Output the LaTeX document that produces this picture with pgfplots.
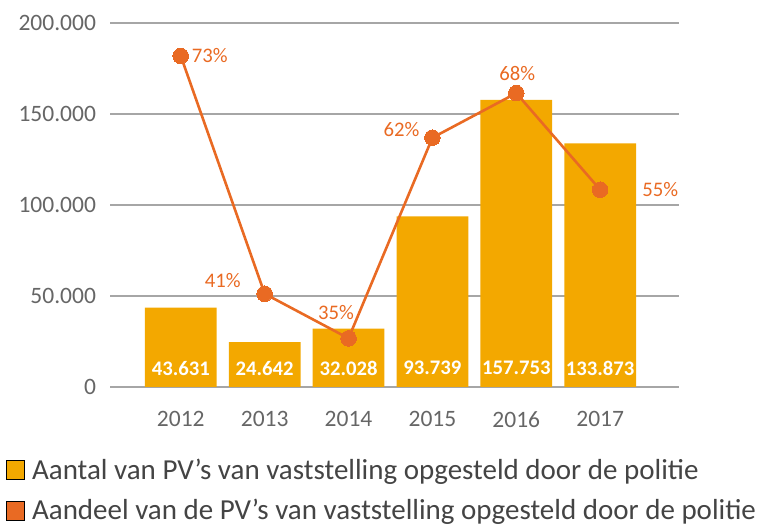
\documentclass[border=0pt]{standalone}
\usepackage{pgfplots}
\usepackage{pgfplotstable}
\pgfplotsset{compat=1.18}
\usepackage{fontspec}
\setmainfont{Carlito}

\definecolor{barc}{HTML}{F3A800}
\definecolor{linec}{HTML}{E96A23}
\definecolor{gridc}{HTML}{A6A6A6}
\definecolor{tickc}{HTML}{666666}
\definecolor{legc}{HTML}{444444}

% number of PV's per year
\pgfplotstableread{
x count
0 43631
1 24642
2 32028
3 93739
4 157753
5 133873
}\counts

% share (%) with label offsets in bp
\pgfplotstableread{
x share dx dy
0 73 29 0
1 41 -42 13
2 35 -12.5 26
3 62 -31 8
4 68 1 20
5 55 60 0
}\shares

\begin{document}
\begin{tikzpicture}[font=\fontsize{23.5bp}{28bp}\selectfont]
\pgfplotsset{
  base/.style={
    at={(110bp,139bp)}, anchor=south west,
    scale only axis, width=569bp, height=364bp,
    xmin=-0.844, xmax=5.94,
  },
}
\begin{axis}[
  base,
  ymin=0, ymax=200000,
  xtick={0,1,2,3,4,5},
  xticklabels={2012,2013,2014,2015,2016,2017},
  ytick={0,50000,100000,150000,200000},
  scaled y ticks=false,
  axis line style={draw=none},
  major tick style={draw=none},
  ymajorgrids, grid style={gridc, line width=1.2bp},
  tick label style={tickc},
  xticklabel style={yshift=-21bp},
  yticklabel style={xshift=-10.5bp},
  /pgf/number format/fixed,
  /pgf/number format/1000 sep={.},
  /pgf/number format/assume math mode=true,
]
\addplot[ybar, bar shift=0pt, bar width=0.855, fill=barc, draw=none]
  table[x=x, y=count] {\counts};
\addplot[draw=none, mark=none, nodes near coords, point meta=\thisrow{count},
  nodes near coords style={white, anchor=center,
    font=\fontsize{20.7bp}{24bp}\selectfont\bfseries}]
  table[x=x, y expr=10400] {\counts};
\end{axis}

\begin{axis}[
  base,
  ymin=28.45, ymax=77.44,
  hide axis, clip=false,
  legend image code/.code={\fill[#1] (0bp,-9.5bp) rectangle (18bp,9.5bp);},
  legend cell align=left,
  legend style={at={(-0.1828,-0.192)}, anchor=north west, draw=none, fill=none,
    inner sep=0pt, row sep=14.5bp, text=legc,
    font=\fontsize{29bp}{34bp}\selectfont,
    /tikz/every odd column/.append style={column sep=5.5bp}},
  /pgf/number format/assume math mode=true,
]
\addlegendimage{fill=barc}
\addlegendimage{fill=linec}
\addplot[forget plot, linec, line width=2.6bp, mark=*, mark size=7.8bp,
  mark options={fill=linec, draw=linec, line width=0pt},
  point meta=y,
  nodes near coords={\pgfmathprintnumber{\pgfplotspointmeta}\%},
  visualization depends on={\thisrow{dx} \as \dx},
  visualization depends on={\thisrow{dy} \as \dy},
  nodes near coords style={linec, anchor=center, xshift=\dx bp, yshift=\dy bp,
    font=\fontsize{20.7bp}{24bp}\selectfont}]
  table[x=x, y=share] {\shares};
\legend{Aantal van PV’s van vaststelling opgesteld door de politie,
  Aandeel van de PV’s van vaststelling opgesteld door de politie}
\end{axis}
\pgfresetboundingbox
\path (0,0) rectangle (765bp,526bp);
\end{tikzpicture}
\end{document}
